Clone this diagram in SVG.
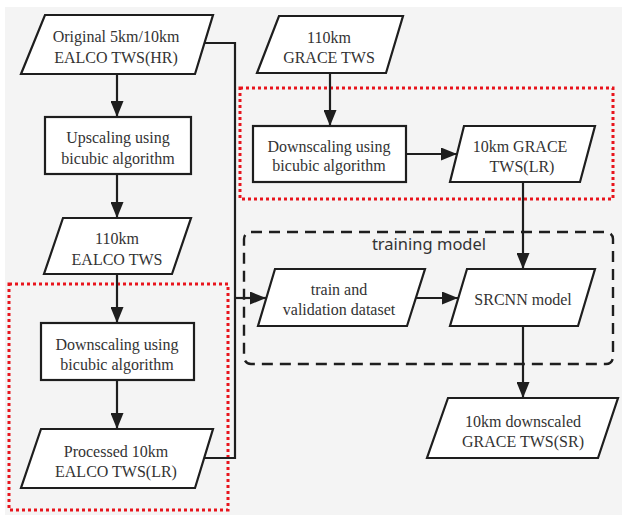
<svg xmlns="http://www.w3.org/2000/svg" width="622" height="515" viewBox="0 0 622 515">
<defs>
<style>
.n{fill:#fff;stroke:#1e1e1e;stroke-width:2.2}
.t{font-family:"Liberation Serif","Times New Roman",serif;font-size:16px;fill:#333;text-anchor:middle}
.c{fill:none;stroke:#1e1e1e;stroke-width:2.2}
.red{fill:none;stroke:#e8141c;stroke-width:3;stroke-dasharray:3 3}
.dash{fill:none;stroke:#1e1e1e;stroke-width:2.4;stroke-dasharray:11 7}
</style>
<marker id="ah" viewBox="0 0 16 13" refX="16" refY="6.5" markerWidth="16" markerHeight="13" markerUnits="userSpaceOnUse" orient="auto">
<path d="M0,0 L16,6.5 L0,13 Z" fill="#1e1e1e"/>
</marker>
</defs>
<rect x="0" y="0" width="622" height="515" fill="#f4f4f4"/>
<rect x="0" y="0" width="622" height="7" fill="#fff"/>
<rect x="0" y="0" width="5" height="515" fill="#fff"/>

<g id="groups">
<rect class="red" x="9" y="284" width="219" height="226"/>
<rect class="red" x="240" y="88" width="373" height="111"/>
<rect class="dash" x="244" y="232" width="369" height="132" rx="7"/>
<text x="429" y="250" style="font-family:'Noto Sans','Open Sans',sans-serif;font-size:16.5px;fill:#333;text-anchor:middle">training model</text>
</g>

<g id="connectors">
<line class="c" x1="117" y1="74" x2="117" y2="117" marker-end="url(#ah)"/>
<line class="c" x1="117" y1="174" x2="117" y2="218" marker-end="url(#ah)"/>
<line class="c" x1="117" y1="274" x2="117" y2="323" marker-end="url(#ah)"/>
<line class="c" x1="117" y1="380" x2="117" y2="429" marker-end="url(#ah)"/>
<polyline class="c" points="205,43 235,43 235,458 203,458"/>
<line class="c" x1="235" y1="298" x2="266" y2="298" marker-end="url(#ah)"/>
<line class="c" x1="330" y1="73" x2="330" y2="126" marker-end="url(#ah)"/>
<line class="c" x1="406" y1="154" x2="457" y2="154" marker-end="url(#ah)"/>
<line class="c" x1="523" y1="182" x2="523" y2="269" marker-end="url(#ah)"/>
<line class="c" x1="416" y1="298" x2="458" y2="298" marker-end="url(#ah)"/>
<line class="c" x1="523" y1="326" x2="523" y2="398" marker-end="url(#ah)"/>
</g>

<g id="n-original">
<polygon class="n" points="45,15 213,15 195,74 21,74"/>
<text class="t" x="116" y="42">Original 5km/10km</text>
<text class="t" x="116" y="63">EALCO TWS(HR)</text>
</g>
<g id="n-upscaling">
<rect class="n" x="45" y="117" width="146" height="57"/>
<text class="t" x="118" y="143">Upscaling using</text>
<text class="t" x="118" y="164">bicubic algorithm</text>
</g>
<g id="n-110ealco">
<polygon class="n" points="63,218 191,218 172,274 44,274"/>
<text class="t" x="117" y="244">110km</text>
<text class="t" x="117" y="265">EALCO TWS</text>
</g>
<g id="n-downscale-left">
<rect class="n" x="41" y="323" width="153" height="57"/>
<text class="t" x="117" y="350">Downscaling using</text>
<text class="t" x="117" y="370">bicubic algorithm</text>
</g>
<g id="n-processed">
<polygon class="n" points="41,429 213,429 195,488 21,488"/>
<text class="t" x="116" y="457">Processed 10km</text>
<text class="t" x="116" y="477">EALCO TWS(LR)</text>
</g>
<g id="n-110grace">
<polygon class="n" points="279,16 403,16 386,73 257,73"/>
<text class="t" x="329" y="43">110km</text>
<text class="t" x="329" y="63">GRACE TWS</text>
</g>
<g id="n-downscale-right">
<rect class="n" x="253" y="126" width="153" height="56"/>
<text class="t" x="329" y="152">Downscaling using</text>
<text class="t" x="329" y="171">bicubic algorithm</text>
</g>
<g id="n-10grace">
<polygon class="n" points="464,126 595,126 580,182 450,182"/>
<text class="t" x="520" y="152">10km GRACE</text>
<text class="t" x="522" y="172">TWS(LR)</text>
</g>
<g id="n-train">
<polygon class="n" points="275,269 425,269 407,326 258,326"/>
<text class="t" x="339" y="295">train and</text>
<text class="t" x="339" y="315">validation dataset</text>
</g>
<g id="n-srcnn">
<polygon class="n" points="467,269 595,269 578,326 450,326"/>
<text class="t" x="523" y="305">SRCNN model</text>
</g>
<g id="n-output">
<polygon class="n" points="448,398 618,398 598,458 427,458"/>
<text class="t" x="523" y="427">10km downscaled</text>
<text class="t" x="523" y="447">GRACE TWS(SR)</text>
</g>
</svg>
